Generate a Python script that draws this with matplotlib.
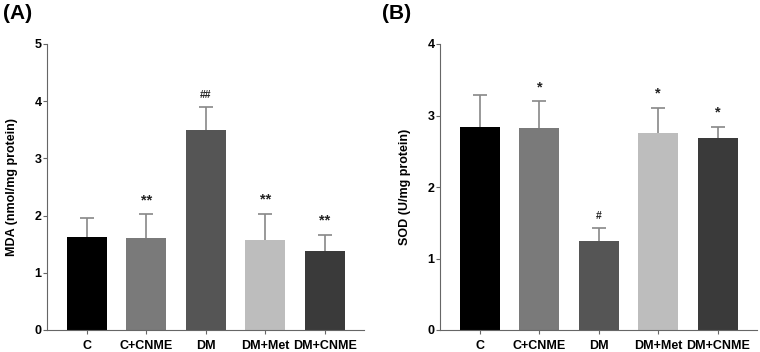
import numpy as np
import matplotlib
matplotlib.use("Agg")
import matplotlib.pyplot as plt

plt.rcParams['font.family'] = ['Liberation Sans', 'DejaVu Sans']
plt.rcParams['font.weight'] = 'bold'

groups = ['C', 'C+CNME', 'DM', 'DM+Met', 'DM+CNME']
bar_colors = ['#000000', '#7a7a7a', '#555555', '#bdbdbd', '#3a3a3a']

mda_mean = [1.63, 1.60, 3.50, 1.57, 1.38]
mda_err = [0.33, 0.42, 0.39, 0.46, 0.28]
mda_marks = ['', '**', '##', '**', '**']

sod_mean = [2.84, 2.83, 1.25, 2.76, 2.68]
sod_err = [0.45, 0.37, 0.18, 0.35, 0.16]
sod_marks = ['', '*', '#', '*', '*']

fig = plt.figure(figsize=(7.6, 3.52), dpi=100)
ax_a = fig.add_axes([0.0618, 0.0625, 0.417, 0.8125])
ax_b = fig.add_axes([0.579, 0.0625, 0.417, 0.8125])


def draw_panel(ax, means, errs, marks, ymax, ylabel, letter, letter_x):
    x = np.arange(len(groups))
    ax.bar(x, means, width=0.67, color=bar_colors, zorder=2)
    _, caps, _ = ax.errorbar(x, means, yerr=[np.zeros(len(errs)), errs],
                             fmt='none', ecolor='#888888', elinewidth=1.2,
                             capsize=5, capthick=1.2, zorder=1)
    caps[0].set_visible(False)  # only upper caps
    for xi, m, e, s in zip(x, means, errs, marks):
        if s:
            fs = 7.5 if '#' in s else 10.5
            ax.text(xi, m + e + ymax * 0.025, s, ha='center', va='bottom',
                    fontsize=fs, fontweight='bold', color='#222222')
    ax.set_xlim(-0.67, 4.66)
    ax.set_ylim(0, ymax)
    ax.set_yticks(np.arange(0, ymax + 1, 1))
    ax.set_xticks(x)
    ax.set_xticklabels(groups, fontsize=9, fontweight='bold')
    ax.tick_params(axis='y', labelsize=9, length=3, width=0.8,
                   color='#666666', pad=1)
    ax.tick_params(axis='x', length=3, width=0.8, color='#666666', pad=4)
    for lbl in ax.get_yticklabels():
        lbl.set_fontweight('bold')
    ax.spines['top'].set_visible(False)
    ax.spines['right'].set_visible(False)
    ax.spines['left'].set_color('#666666')
    ax.spines['bottom'].set_color('#666666')
    ax.set_ylabel(ylabel, fontsize=9, fontweight='bold', labelpad=12)
    fig.text(letter_x, 0.99, letter, fontsize=15, fontweight='bold',
             va='top', ha='left')


draw_panel(ax_a, mda_mean, mda_err, mda_marks, 5, 'MDA (nmol/mg protein)', '(A)', 0.004)
draw_panel(ax_b, sod_mean, sod_err, sod_marks, 4, 'SOD (U/mg protein)', '(B)', 0.503)

fig.savefig('out.png', dpi=100)
